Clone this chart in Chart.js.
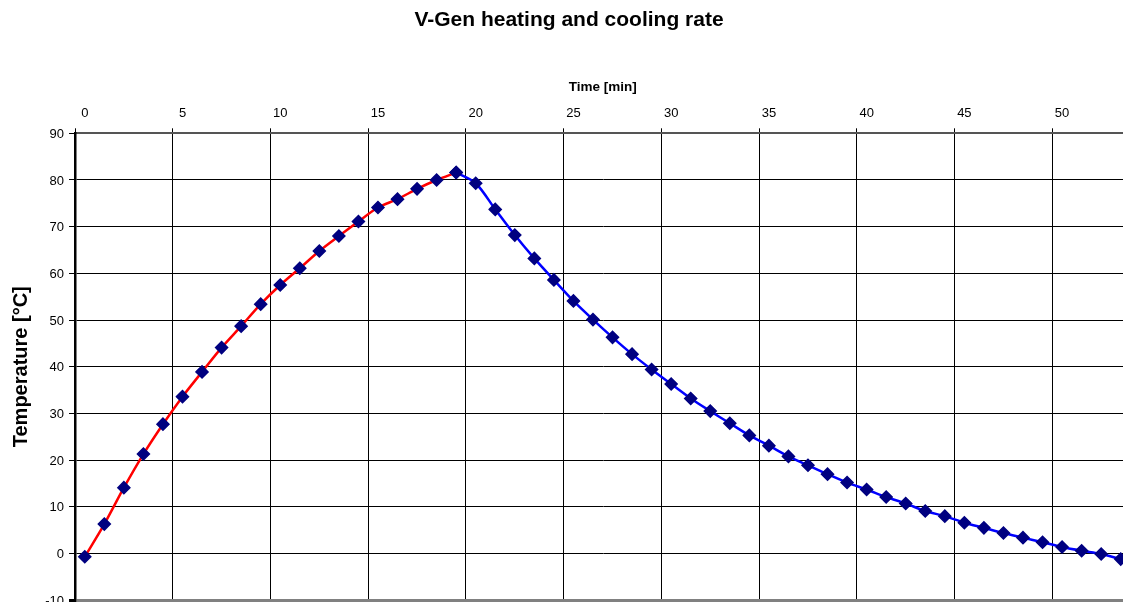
<!DOCTYPE html>
<html>
<head>
<meta charset="utf-8">
<script src="https://cdn.jsdelivr.net/npm/chart.js@4"></script>
<style>
  body { margin: 0; background: #fff; }
  #wrap { width: 1123px; height: 602px; overflow: hidden; }
</style>
</head>
<body>
<div id="wrap"><canvas id="rateChart" width="1138" height="613"></canvas></div>
<script>
// Time categories [min]
const times = ['0', '1', '2', '3', '4', '5', '6', '7', '8', '9',
    '10', '11', '12', '13', '14', '15', '16', '17', '18', '19',
    '20', '21', '22', '23', '24', '25', '26', '27', '28', '29',
    '30', '31', '32', '33', '34', '35', '36', '37', '38', '39',
    '40', '41', '42', '43', '44', '45', '46', '47', '48', '49',
    '50', '51', '52', '53'];

// Heating, minutes 0-19 (°C)
const heating = [-0.7, 6.3, 14.1, 21.3, 27.7, 33.6, 38.9, 44.1, 48.7, 53.4,
    57.5, 61.1, 64.8, 68.0, 71.1, 74.1, 75.9, 78.1, 80.0, 81.6];

// Cooling, minutes 19-53 (°C), starts at the peak
const cooling = [81.6, 79.3, 73.7, 68.2, 63.2, 58.6, 54.1, 50.1, 46.3, 42.7,
    39.4, 36.3, 33.2, 30.5, 27.9, 25.3, 23.1, 20.8, 18.9, 17.0,
    15.2, 13.7, 12.1, 10.7, 9.1, 8.0, 6.6, 5.5, 4.4, 3.4,
    2.4, 1.4, 0.6, -0.1, -1.2];

const coolStart = heating.length - 1;
const font = 'Arial, "Liberation Sans", sans-serif';

const pointStyle = {
    pointStyle: 'rectRot',
    pointRadius: 6,
    pointHoverRadius: 6,
    pointBackgroundColor: '#000080',
    pointBorderColor: '#000080',
    pointBorderWidth: 1.5
};

var ctx = document.getElementById('rateChart').getContext('2d');
new Chart(ctx, {
    type: 'line',
    data: {
        labels: times,
        datasets: [
            Object.assign({
                label: 'Heating',
                data: heating,
                borderColor: '#ff0000',
                borderWidth: 2.5,
                tension: 0.3,
                fill: false
            }, pointStyle),
            Object.assign({
                label: 'Cooling',
                data: cooling.map((v, i) => ({ x: times[coolStart + i], y: v })),
                borderColor: '#0000ff',
                borderWidth: 2.5,
                tension: 0.3,
                fill: false
            }, pointStyle)
        ]
    },
    options: {
        responsive: false,
        animation: false,
        layout: { padding: 0 },
        plugins: {
            legend: { display: false },
            tooltip: { enabled: false },
            title: {
                display: true,
                text: 'V-Gen heating and cooling rate',
                color: '#000',
                font: { family: font, size: 21, weight: 'bold' },
                padding: { top: 8, bottom: 0 }
            }
        },
        scales: {
            x: {
                type: 'category',
                position: 'top',
                offset: true,
                title: {
                    display: true,
                    text: 'Time [min]',
                    color: '#000',
                    font: { family: font, size: 13.5, weight: 'bold' },
                    padding: { top: 46, bottom: 0 }
                },
                grid: {
                    offset: true,
                    color: (c) => (c.index % 5 === 0 ? '#000' : 'rgba(0,0,0,0)'),
                    tickColor: (c) => (c.index % 5 === 0 ? '#000' : 'rgba(0,0,0,0)'),
                    lineWidth: 1,
                    tickLength: 5
                },
                border: { color: '#555', width: 2 },
                ticks: {
                    autoSkip: false,
                    maxRotation: 0,
                    padding: 7.5,
                    color: '#000',
                    font: { family: font, size: 13 },
                    callback: (value, index) => (index % 5 === 0 ? times[index] : '')
                },
                afterFit: (scale) => {
                    scale.height = 100.1;
                }
            },
            y: {
                min: -10,
                max: 90,
                title: {
                    display: true,
                    text: 'Temperature [°C]',
                    color: '#000',
                    font: { family: font, size: 20, weight: 'bold' },
                    padding: { top: 9, bottom: 0 }
                },
                grid: {
                    color: (c) => (c.tick && c.tick.value === -10 ? '#808080' : '#000'),
                    lineWidth: (c) => (c.tick && c.tick.value === -10 ? 3 : 1),
                    tickColor: '#000',
                    tickLength: 6
                },
                border: { color: '#000', width: 2.5 },
                ticks: {
                    stepSize: 10,
                    padding: 5,
                    labelOffset: 1,
                    color: '#000',
                    font: { family: font, size: 13 }
                },
                afterFit: (scale) => {
                    scale.width = 75;
                }
            }
        }
    }
});
</script>
</body>
</html>
